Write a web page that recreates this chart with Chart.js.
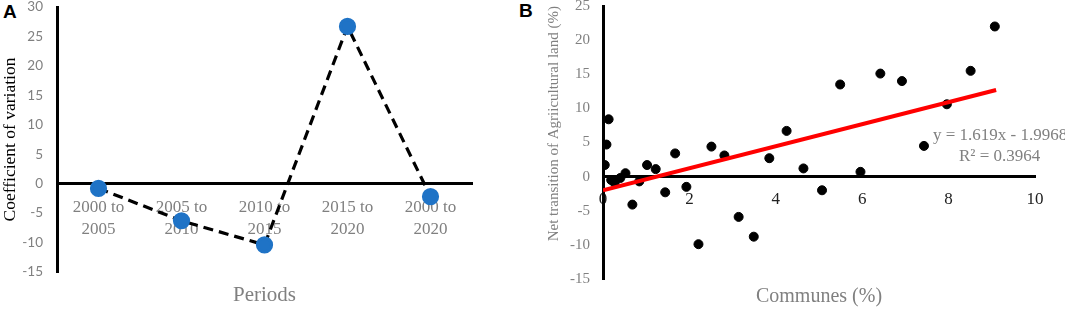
<!DOCTYPE html>
<html>
<head>
<meta charset="utf-8">
<script src="https://cdn.jsdelivr.net/npm/chart.js@4.4.1/dist/chart.umd.min.js"></script>
<style>
  body { margin: 0; background: #fff; width: 1065px; height: 310px; position: relative; overflow: hidden; }
  canvas { position: absolute; top: 0; }
  #chartA { left: 0; }
  #chartB { left: 540px; }
  .tag { position: absolute; font: bold 19px "Liberation Sans", Arial, sans-serif; color: #000; line-height: 20px; }
</style>
</head>
<body>
<div class="tag" style="left:3px; top:2px;">A</div>
<div class="tag" style="left:519px; top:1px;">B</div>
<canvas id="chartA" width="490" height="310"></canvas>
<canvas id="chartB" width="525" height="310"></canvas>
<script>
// Panel A: coefficient of variation by period
const periods = [["2000 to", "2005"], ["2005 to", "2010"], ["2010 to", "2015"], ["2015 to", "2020"], ["2000 to", "2020"]];
const cvValues = [-0.8, -6.3, -10.4, 26.7, -2.2];

// Panel B: communes vs net transition of agricultural land
const communesX = [0.04, 0.08, 0.13, 0.19, 0.27, 0.40, 0.52, 0.68, 0.84, 1.02, 1.22, 1.44, 1.67, 1.93, 2.21, 2.51, 2.81, 3.14, 3.49, 3.85, 4.25, 4.64, 5.07, 5.49, 5.96, 6.42, 6.92, 7.43, 7.96, 8.51, 9.07];
const netTransitionY = [1.7, 4.7, 8.4, -0.5, -0.9, -0.2, 0.5, -4.1, -0.7, 1.7, 1.1, -2.3, 3.4, -1.5, -9.9, 4.4, 3.1, -5.9, -8.8, 2.7, 6.7, 1.2, -2.0, 13.5, 0.7, 15.1, 14.0, 4.5, 10.6, 15.5, 22.0];
const trendX = [0, 9.1];
const trendY = [-2.0, 12.7];
const trendLabels = ["y = 1.619x - 1.9968", "R\u00b2 = 0.3964"];

const serif = "'Liberation Serif', 'Times New Roman', serif";
const gray = "#808080";

// keep the chart area exactly where layout.padding puts it
function noPadding(scale) {
  scale.paddingTop = 0;
  scale.paddingBottom = 0;
  scale.paddingLeft = 0;
  scale.paddingRight = 0;
}

// draws an axis title at fixed offset under the chart area
const bottomTitle = {
  id: "bottomTitle",
  afterDraw(chart, args, opts) {
    const ctx = chart.ctx;
    const area = chart.chartArea;
    ctx.save();
    ctx.fillStyle = gray;
    ctx.font = opts.size + "px " + serif;
    ctx.textAlign = "center";
    ctx.textBaseline = "middle";
    ctx.fillText(opts.text, (area.left + area.right) / 2, area.bottom + opts.offset);
    ctx.restore();
  }
};

new Chart(document.getElementById("chartA"), {
  type: "line",
  data: {
    labels: periods,
    datasets: [{
      data: cvValues,
      borderColor: "#000",
      borderWidth: 3.2,
      borderDash: [10, 6],
      pointRadius: 7,
      pointBackgroundColor: "#1f73c6",
      pointBorderColor: "#1f73c6",
      tension: 0
    }]
  },
  options: {
    responsive: false,
    animation: false,
    layout: { autoPadding: false, padding: { top: 7, bottom: 38, right: 18, left: 0 } },
    plugins: {
      legend: { display: false },
      tooltip: { enabled: false },
      bottomTitle: { text: "Periods", size: 21, offset: 23 }
    },
    scales: {
      x: {
        offset: true,
        position: { y: 0 },
        afterFit: noPadding,
        grid: { display: false, drawTicks: false, offset: true },
        border: { color: "#000", width: 3 },
        ticks: { color: gray, padding: 13, font: { family: serif, size: 17, lineHeight: 1.3 }, maxRotation: 0, autoSkip: false }
      },
      y: {
        min: -15,
        max: 30,
        afterFit(scale) { scale.width = 57; noPadding(scale); },
        grid: { display: false, drawTicks: false },
        border: { color: "#000", width: 3 },
        ticks: { stepSize: 5, color: gray, padding: 14, font: { family: "Lato, sans-serif", size: 13.5 } },
        title: { display: true, text: "Coefficient of variation", color: "#000", padding: { top: 0, bottom: 0 }, font: { family: serif, size: 17.5 } }
      }
    }
  },
  plugins: [bottomTitle]
});

// equation text next to the trendline
const equationText = {
  id: "equationText",
  afterDraw(chart) {
    const ctx = chart.ctx;
    ctx.save();
    ctx.fillStyle = gray;
    ctx.font = "17px " + serif;
    ctx.textBaseline = "middle";
    ctx.textAlign = "left";
    ctx.fillText(trendLabels[0], 393, 136);
    ctx.fillText(trendLabels[1], 419, 157);
    ctx.restore();
  }
};

new Chart(document.getElementById("chartB"), {
  type: "scatter",
  data: {
    datasets: [{
      type: "line",
      data: trendX.map((x, i) => ({ x: x, y: trendY[i] })),
      borderColor: "#ff0000",
      borderWidth: 4,
      pointRadius: 0,
      order: 0
    }, {
      data: communesX.map((x, i) => ({ x: x, y: netTransitionY[i] })),
      pointRadius: 4.5,
      pointBackgroundColor: "#000",
      pointBorderColor: "#000",
      order: 1
    }]
  },
  options: {
    responsive: false,
    animation: false,
    layout: { autoPadding: false, padding: { top: 6, bottom: 31, right: 30, left: 0 } },
    plugins: {
      legend: { display: false },
      tooltip: { enabled: false },
      bottomTitle: { text: "Communes (%)", size: 20, offset: 18 }
    },
    scales: {
      x: {
        type: "linear",
        min: 0,
        max: 10,
        position: { y: 0 },
        afterFit: noPadding,
        grid: { display: false, drawTicks: false },
        border: { color: "#000", width: 3 },
        ticks: { stepSize: 2, color: "#222", padding: 13, font: { family: serif, size: 17 } }
      },
      y: {
        min: -15,
        max: 25,
        afterFit(scale) { scale.width = 63; noPadding(scale); },
        grid: { display: false, drawTicks: false },
        border: { color: "#000", width: 3 },
        ticks: { stepSize: 5, color: gray, padding: 13, font: { family: serif, size: 15 } },
        title: { display: true, text: "Net transition of Agriicultural land (%)", align: "end", color: gray, padding: { top: 5, bottom: 0 }, font: { family: serif, size: 15 } }
      }
    }
  },
  plugins: [bottomTitle, equationText]
});
</script>
</body>
</html>
